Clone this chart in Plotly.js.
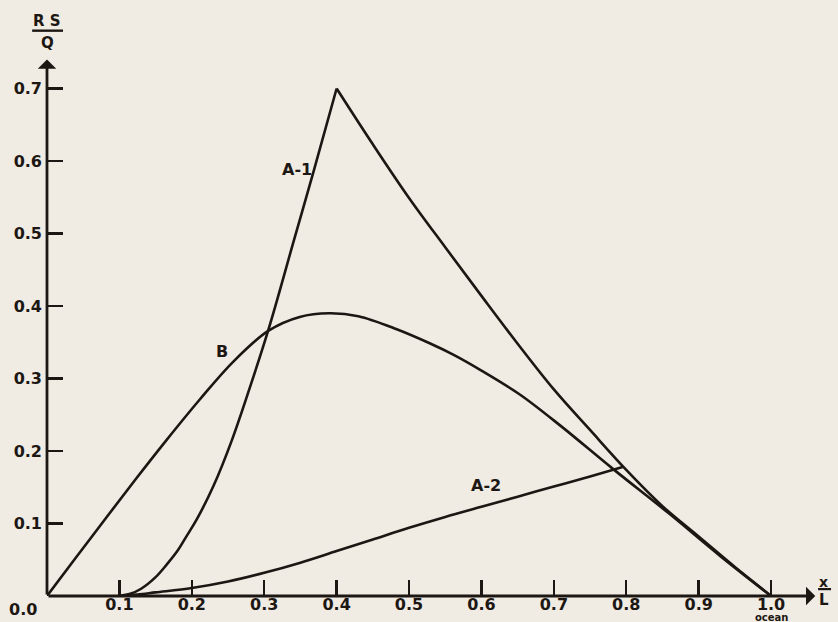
<!DOCTYPE html>
<html>
<head>
<meta charset="utf-8">
<script src="https://cdn.plot.ly/plotly-3.0.1.min.js"></script>
<style>
  html, body { margin: 0; padding: 0; background: #f0ebe3; }
  #chart { width: 838px; height: 622px; }
</style>
</head>
<body>
<div id="chart"></div>
<script>
// ---- data ----
const A1_X = [0.10, 0.115, 0.13, 0.15, 0.165, 0.18, 0.193, 0.207, 0.23, 0.255, 0.28, 0.306, 0.34, 0.368, 0.40,
              0.45, 0.50, 0.55, 0.60, 0.65, 0.70, 0.75, 0.80, 0.85, 0.90, 0.95, 1.0];
const A1_Y = [0, 0.003, 0.010, 0.026, 0.043, 0.062, 0.083, 0.106, 0.152, 0.214, 0.287, 0.368, 0.487, 0.585, 0.70,
              0.623, 0.549, 0.481, 0.414, 0.348, 0.285, 0.229, 0.174, 0.124, 0.082, 0.040, 0];
const A1_PEAK_INDEX = 14;

const B_X = [0, 0.04, 0.0825, 0.124, 0.165, 0.211, 0.257, 0.306, 0.349, 0.39, 0.43, 0.483, 0.53, 0.561, 0.60, 0.653, 0.709, 0.782, 0.86, 0.93, 1.0];
const B_Y = [0, 0.053, 0.109, 0.163, 0.215, 0.271, 0.323, 0.366, 0.385, 0.390, 0.386, 0.368, 0.348, 0.333, 0.311, 0.278, 0.235, 0.175, 0.113, 0.055, 0];

const A2_X = [0.10, 0.125, 0.15, 0.20, 0.25, 0.30, 0.35, 0.40, 0.45, 0.50, 0.55, 0.60, 0.65, 0.70, 0.75, 0.795];
const A2_Y = [0, 0.002, 0.005, 0.011, 0.020, 0.032, 0.046, 0.062, 0.078, 0.094, 0.109, 0.123, 0.137, 0.151, 0.165, 0.178];

const X_TICKS = [0.1, 0.2, 0.3, 0.4, 0.5, 0.6, 0.7, 0.8, 0.9, 1.0];
const X_TICK_LABELS = ["0.1", "0.2", "0.3", "0.4", "0.5", "0.6", "0.7", "0.8", "0.9", "1.0"];
const Y_TICKS = [0.1, 0.2, 0.3, 0.4, 0.5, 0.6, 0.7];
const Y_TICK_LABELS = ["0.1", "0.2", "0.3", "0.4", "0.5", "0.6", "0.7"];
const ORIGIN_LABEL = "0.0";
const OCEAN_LABEL = "ocean";
const Y_TITLE_TOP = "R S";
const Y_TITLE_BOTTOM = "Q";
const X_TITLE_TOP = "x";
const X_TITLE_BOTTOM = "L";
const CURVE_LABELS = ["A-1", "B", "A-2"];

// ---- styling ----
const INK = "#1d1713";
const BG = "#f0ebe3";
const FONT = "DejaVu Sans";
const LW = 2.6;

const lineStyle = { color: INK, width: LW, shape: "spline", smoothing: 1.0 };

const traces = [
  { x: A1_X.slice(0, A1_PEAK_INDEX + 1), y: A1_Y.slice(0, A1_PEAK_INDEX + 1), mode: "lines", line: lineStyle, hoverinfo: "skip" },
  { x: A1_X.slice(A1_PEAK_INDEX), y: A1_Y.slice(A1_PEAK_INDEX), mode: "lines", line: lineStyle, hoverinfo: "skip" },
  { x: B_X, y: B_Y, mode: "lines", line: lineStyle, hoverinfo: "skip" },
  { x: A2_X, y: A2_Y, mode: "lines", line: lineStyle, hoverinfo: "skip" }
];

const tickFont = { family: FONT, size: 16, color: INK, weight: "bold" };
const labFont = { family: FONT, size: 16, color: INK, weight: "bold" };

function txt(x, y, xref, yref, text, font) {
  return { x: x, y: y, xref: xref, yref: yref, text: text, showarrow: false,
           xanchor: "center", yanchor: "middle", font: font };
}

const layout = {
  width: 838, height: 622,
  paper_bgcolor: BG, plot_bgcolor: BG,
  showlegend: false,
  margin: { l: 47, r: 9, t: 45, b: 26 },
  xaxis: {
    range: [0, 1.08], showgrid: false, zeroline: false, showline: false,
    tickmode: "array", tickvals: X_TICKS, ticktext: X_TICK_LABELS,
    ticks: "inside", ticklen: 16, tickwidth: 2.4, tickcolor: INK,
    tickfont: tickFont, ticklabelstandoff: -3, fixedrange: true
  },
  yaxis: {
    range: [0, 0.76], showgrid: false, zeroline: false, showline: false,
    tickmode: "array", tickvals: Y_TICKS, ticktext: Y_TICK_LABELS,
    ticks: "inside", ticklen: 16, tickwidth: 2.4, tickcolor: INK,
    tickfont: tickFont, ticklabelstandoff: 4, fixedrange: true
  },
  annotations: [
    // axis lines with arrowheads
    { x: 1.061, y: 0, ax: 0, ay: 0, xref: "x", yref: "y", axref: "x", ayref: "y", text: "",
      showarrow: true, arrowhead: 1, arrowsize: 1.1, arrowwidth: 2.8, arrowcolor: INK, standoff: 0, startstandoff: 0 },
    { x: 0, y: 0.74, ax: 0, ay: 0, xref: "x", yref: "y", axref: "x", ayref: "y", text: "",
      showarrow: true, arrowhead: 1, arrowsize: 1.1, arrowwidth: 2.8, arrowcolor: INK, standoff: 0, startstandoff: 0 },
    // curve labels
    txt(0.345, 0.588, "x", "y", CURVE_LABELS[0], labFont),
    txt(0.242, 0.337, "x", "y", CURVE_LABELS[1], labFont),
    txt(0.606, 0.153, "x", "y", CURVE_LABELS[2], labFont),
    // origin label and ocean
    txt(-0.0307, -0.0236, "paper", "paper", ORIGIN_LABEL, tickFont),
    txt(1.0, -0.0385, "x", "paper", OCEAN_LABEL, { family: FONT, size: 10, color: INK, weight: "bold" }),
    // y title fraction
    txt(0.0006, 1.0427, "paper", "paper", Y_TITLE_TOP, { family: FONT, size: 15, color: INK, weight: "bold" }),
    txt(0.0006, 1.0045, "paper", "paper", Y_TITLE_BOTTOM, { family: FONT, size: 15, color: INK, weight: "bold" }),
    // x title fraction
    txt(0.9935, 0.026, "paper", "paper", X_TITLE_TOP, { family: FONT, size: 14, color: INK, weight: "bold" }),
    txt(0.9935, -0.008, "paper", "paper", X_TITLE_BOTTOM, { family: FONT, size: 15, color: INK, weight: "bold" })
  ],
  shapes: [
    { type: "line", xref: "paper", yref: "paper", x0: -0.019, x1: 0.0205, y0: 1.026, y1: 1.026,
      line: { color: INK, width: 2.4 } },
    { type: "line", xref: "paper", yref: "paper", x0: 0.986, x1: 1.0026, y0: 0.0125, y1: 0.0125,
      line: { color: INK, width: 2.2 } }
  ]
};

Plotly.newPlot("chart", traces, layout, { staticPlot: true, displayModeBar: false });
</script>
</body>
</html>
